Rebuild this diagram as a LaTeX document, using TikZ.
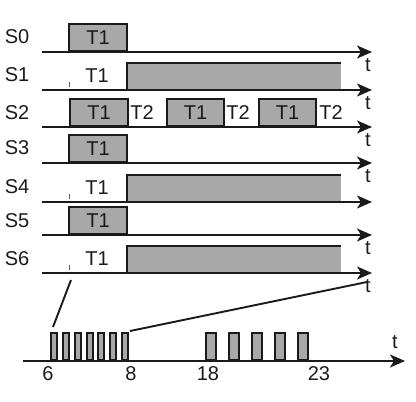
\documentclass[tikz,border=0pt]{standalone}
\usepackage{fontspec}
\setmainfont{Liberation Sans}
\usepackage{tikz}
\usetikzlibrary{arrows.meta, positioning, calc}
\definecolor{sigdark}{HTML}{1a1a1a}
\definecolor{pulsegray}{HTML}{A8A8A8}

\begin{document}
\begin{tikzpicture}[
  x=1pt, y=-1pt,
  lbl/.style={font=\fontsize{20}{23}\selectfont, text=sigdark, inner sep=0pt},
  tlab/.style={font=\fontsize{20}{23}\selectfont, text=sigdark, inner sep=0pt},
  pulse/.style={rectangle, draw=sigdark, fill=pulsegray, line width=1.9pt,
                anchor=south west, minimum height=27pt, inner sep=0pt,
                font=\fontsize{20}{23}\selectfont, text=sigdark},
  level/.style={rectangle, fill=pulsegray, anchor=south west,
                minimum height=27pt, minimum width=214pt, inner sep=0pt},
  edge/.style={line width=1.9pt, color=sigdark},
  axis/.style={line width=1.9pt, color=sigdark,
               -{Stealth[length=15pt, width=13pt, inset=4pt]}},
  tickmark/.style={line width=0.5pt, color=sigdark!70},
  zoomln/.style={line width=1.9pt, color=sigdark}
]
\useasboundingbox (0,0) rectangle (416,402);

% Row labels
\node[lbl] (s0) at (17,37) {S0};
\node[lbl] (s1) at (17,75) {S1};
\node[lbl] (s2) at (17,113) {S2};
\node[lbl] (s3) at (17,148) {S3};
\node[lbl] (s4) at (17,187) {S4};
\node[lbl] (s5) at (17,221) {S5};
\node[lbl] (s6) at (17,259) {S6};

% Time axes
\coordinate (a0) at (42,52);  \coordinate (b0) at (372,52);
\coordinate (a1) at (42,90);  \coordinate (b1) at (372,90);
\coordinate (a2) at (42,127); \coordinate (b2) at (372,127);
\coordinate (a3) at (42,163); \coordinate (b3) at (372,163);
\coordinate (a4) at (42,202); \coordinate (b4) at (372,202);
\coordinate (a5) at (42,235); \coordinate (b5) at (372,235);
\coordinate (a6) at (42,273); \coordinate (b6) at (372,273);

% Long levels
\node[level] (g1) at (127,90) {};
\node[level] (g4) at (127,202) {};
\node[level] (g6) at (127,273) {};
\draw[edge] (g1.south west) |- (g1.north east);
\draw[edge] (g4.south west) |- (g4.north east);
\draw[edge] (g6.south west) |- (g6.north east);

\draw[axis] (a0) -- (b0); \draw[axis] (a1) -- (b1);
\draw[axis] (a2) -- (b2); \draw[axis] (a3) -- (b3);
\draw[axis] (a4) -- (b4); \draw[axis] (a5) -- (b5);
\draw[axis] (a6) -- (b6);

\node[tlab] (t0) at (368,65) {t};
\node[tlab] (t1) at (368,103) {t};
\node[tlab] (t2) at (368,140) {t};
\node[tlab] (t3) at (368,176) {t};
\node[tlab] (t5) at (368,248) {t};
\node[tlab] (t6) at (368,286) {t};

% T1 / T2 pulses
\node[pulse, minimum width=58pt] (p0) at (68,52) {T1};
\node[lbl] (n1) at (97,76) {T1};
\node[pulse, minimum width=58pt] (p2a) at (69,127) {T1};
\node[lbl] (w2a) at (142,113) {T2};
\node[pulse, minimum width=57pt] (p2b) at (166,127) {T1};
\node[lbl] (w2b) at (238,113) {T2};
\node[pulse, minimum width=57pt] (p2c) at (258,127) {T1};
\node[lbl] (w2c) at (331,113) {T2};
\node[pulse, minimum width=58pt] (p3) at (68,163) {T1};
\node[lbl] (n4) at (97,188) {T1};
\node[pulse, minimum width=58pt] (p5) at (68,235) {T1};
\node[lbl] (n6) at (97,259) {T1};

% small marks
\coordinate (m1) at (69,82);  \draw[tickmark] (m1) -- ++(0,5);
\coordinate (m4) at (69,194); \draw[tickmark] (m4) -- ++(0,5);
\coordinate (m6) at (69,265); \draw[tickmark] (m6) -- ++(0,5);

% Zoomed axis
\coordinate (za) at (23,361); \coordinate (zb) at (405,361);
\draw[axis] (za) -- (zb);
\node[tlab] (tz) at (395,342) {t};

\node[pulse, minimum width=6pt] (q1) at (50,361) {};
\node[pulse, minimum width=6pt] (q2) at (62,361) {};
\node[pulse, minimum width=6pt] (q3) at (74,361) {};
\node[pulse, minimum width=6pt] (q4) at (86,361) {};
\node[pulse, minimum width=6pt] (q5) at (97,361) {};
\node[pulse, minimum width=6pt] (q6) at (109,361) {};
\node[pulse, minimum width=6pt] (q7) at (121,361) {};

\node[pulse, minimum width=10pt] (r1) at (205,361) {};
\node[pulse, minimum width=10pt] (r2) at (228,361) {};
\node[pulse, minimum width=10pt] (r3) at (251,361) {};
\node[pulse, minimum width=10pt] (r4) at (274,361) {};
\node[pulse, minimum width=10pt] (r5) at (297,361) {};

\node[lbl] (k6) at (48,374) {6};
\node[lbl] (k8) at (131,374) {8};
\node[lbl] (k18) at (208,374) {18};
\node[lbl] (k23) at (319,374) {23};

% Zoom lines
\coordinate (z1a) at (71,280); \coordinate (z1b) at (53,327);
\coordinate (z2a) at (130,331); \coordinate (z2b) at (367,282);
\draw[zoomln] (z1a) -- (z1b);
\draw[zoomln] (z2a) -- (z2b);
\end{tikzpicture}
\end{document}
